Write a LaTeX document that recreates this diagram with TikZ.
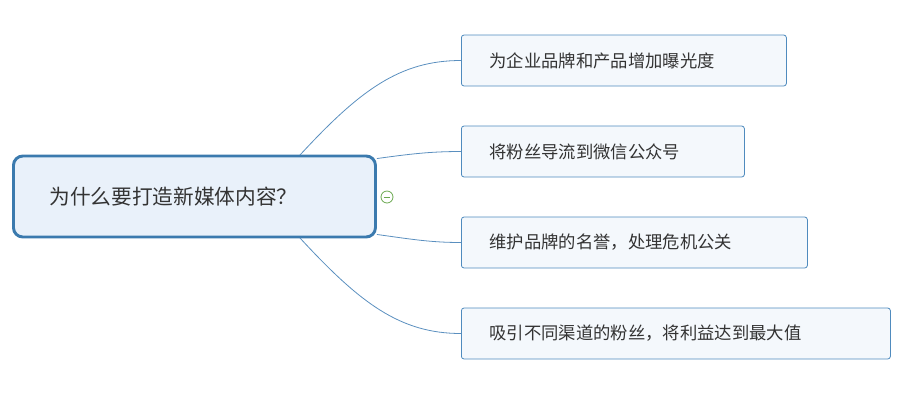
\documentclass[tikz,border=0pt]{standalone}
\usepackage{fontspec}
\setmainfont{Noto Sans CJK SC}
\definecolor{rootline}{HTML}{3B7AAE}
\definecolor{rootfill}{HTML}{E9F1FA}
\definecolor{leafline}{HTML}{4F8BBE}
\definecolor{leaffill}{HTML}{F4F8FC}
\definecolor{linkline}{HTML}{5A8FBF}
\definecolor{foldgreen}{HTML}{6AA84F}
\begin{document}
\begin{tikzpicture}[x=0.75pt,y=-0.75pt,
    rootbox/.style={draw=rootline,line width=2.2pt,fill=rootfill,rounded corners=7pt,anchor=west,
      inner xsep=27pt,text width=290*0.75pt,align=left,
      minimum height=81*0.75pt,font=\fontsize{15.5}{18}\selectfont,text=black!80},
    leafbox/.style={draw=leafline,line width=0.6pt,fill=leaffill,rounded corners=2pt,
      inner xsep=21pt,align=left,
      minimum height=51*0.75pt,font=\fontsize{13}{15}\selectfont,text=black!80,anchor=west},
    link/.style={draw=linkline,line width=0.6pt}]
  \useasboundingbox (0,0) rectangle (904,405);
  % central topic
  \node[rootbox] (root) at (12,196.5) {为什么要打造新媒体内容？};
  % branches
  \node[leafbox,text width=269*0.75pt] (b1) at (461,60.5) {为企业品牌和产品增加曝光度};
  \node[leafbox,text width=227*0.75pt] (b2) at (461,151.5) {将粉丝导流到微信公众号};
  \node[leafbox,text width=290*0.75pt] (b3) at (461,242.5) {维护品牌的名誉，处理危机公关};
  \node[leafbox,text width=373*0.75pt] (b4) at (461,333.5) {吸引不同渠道的粉丝，将利益达到最大值};
  % connectors
  \coordinate (r1) at (300,155);
  \coordinate (r4) at (300,238);
  \draw[link] (r1) .. controls (360,90) and (400,60.5) .. (b1.west);
  \draw[link] (root.north east) ++(0,4) .. controls (410,154) and (430,151.5) .. (b2.west);
  \draw[link] (root.south east) ++(0,-4) .. controls (410,239) and (430,242.5) .. (b3.west);
  \draw[link] (r4) .. controls (360,303) and (400,333.5) .. (b4.west);
  % fold marker
  \node[circle,draw=foldgreen,fill=white,line width=0.6pt,minimum size=9pt,inner sep=0pt] (fold) at (387,197) {};
  \draw[foldgreen,line width=0.6pt] ([xshift=-2.5pt]fold.center) -- ([xshift=2.5pt]fold.center);
\end{tikzpicture}
\end{document}
